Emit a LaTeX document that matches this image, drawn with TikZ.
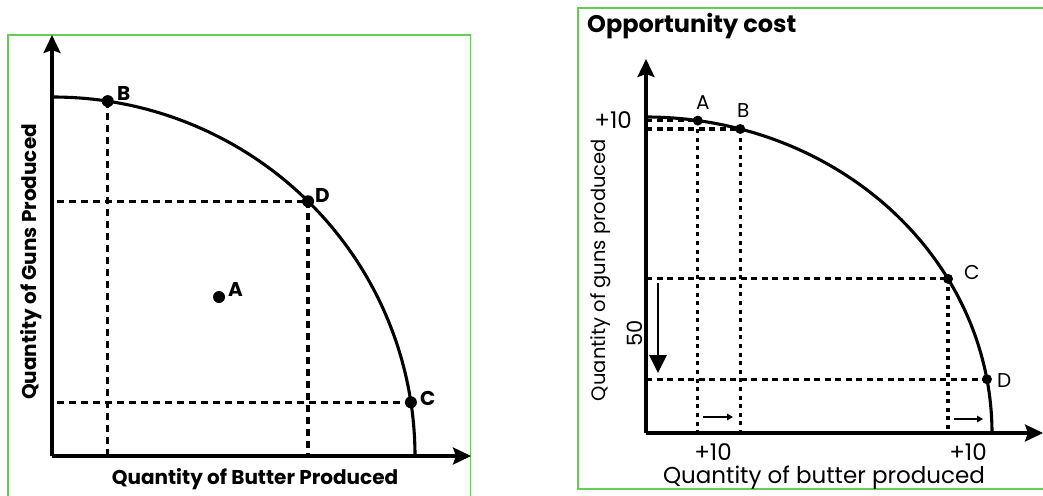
\documentclass[tikz,border=0pt]{standalone}
\usepackage{fontspec}
\setmainfont{Poppins}
\usetikzlibrary{arrows.meta}
\definecolor{framegreen}{RGB}{102,204,85}
\begin{document}
\begin{tikzpicture}[x=1pt,y=-1pt,
  axis/.style={line width=3.4pt,-{Stealth[length=18pt,width=17pt,inset=3pt]}},
  ppf/.style={line width=3.1pt},
  dashL/.style={line width=3.3pt,dash pattern=on 7pt off 5pt},
  dashLh/.style={line width=3.3pt,dash pattern=on 7pt off 5pt,dash phase=7pt},
  dashR/.style={line width=3.3pt,dash pattern=on 6pt off 4.5pt},
  dotR/.style={line width=3.4pt,dash pattern=on 4pt off 4.6pt},
  ptL/.style={circle,fill,inner sep=0pt,minimum size=12pt},
  ptR/.style={circle,fill,inner sep=0pt,minimum size=10pt},
  lblL/.style={font=\fontsize{20}{24}\selectfont\bfseries,inner sep=0pt},
  lblR/.style={font=\fontsize{20}{24}\selectfont,inner sep=0pt},
  axlabL/.style={font=\fontsize{20}{24}\selectfont\bfseries,inner sep=0pt},
  xlabR/.style={font=\fontsize{23}{26}\selectfont,inner sep=0pt},
  ylabR/.style={font=\fontsize{19.5}{24}\selectfont,inner sep=0pt},
  numR/.style={font=\fontsize{23}{26}\selectfont,inner sep=0pt},
  fiftyR/.style={font=\fontsize{21}{24}\selectfont,inner sep=0pt},
  titleR/.style={font=\fontsize{24}{28}\selectfont\bfseries,inner sep=0pt},
  frame/.style={draw=framegreen,line width=1.3pt},
  bigarr/.style={line width=2.8pt,-{Triangle[length=18pt,width=17pt]}},
  smallarr/.style={line width=2.2pt,-{Triangle[length=6pt,width=6.5pt]}}
]
\useasboundingbox (0,0) rectangle (1043,495);
\fill[white] (0,0) rectangle (1043,495);
% frames
\draw[frame] (8,35) rectangle (470.5,510);
\draw[frame] (578,8) rectangle (1055,489);

%%%%%%%% LEFT PANEL
\coordinate (O1) at (52,456);
\coordinate (Y1) at (52,35);
\coordinate (X1) at (471,456);
\coordinate (pB1) at ({53+362*cos(81.3)},{456-359*sin(81.3)});
\coordinate (pD1) at ({53+362*cos(45.2)},{456-359*sin(45.2)});
\coordinate (pC1) at ({53+362*cos(8.6)},{456-359*sin(8.6)});
\coordinate (pA1) at (219,297);
\draw[dashL] (pB1) -- (pB1 |- O1);
\draw[dashL] (pD1) -- (pD1 |- O1);
\draw[dashLh] (O1 |- pD1) -- (pD1);
\draw[dashLh] (O1 |- pC1) -- (pC1);
\draw[ppf] plot[domain=90:0,samples=90] ({53+362*cos(\x)},{456-359*sin(\x)});
\draw[axis] (O1) -- (Y1);
\draw[axis] (O1) -- (X1);
\node[ptL] (B1) at (pB1) {};
\node[ptL] (D1) at (pD1) {};
\node[ptL] (C1) at (pC1) {};
\node[ptL] (A1) at (pA1) {};
\node[lblL,anchor=base west] (lB1) at (117,100) {B};
\node[lblL,anchor=base west] (lD1) at (315,202) {D};
\node[lblL,anchor=base west] (lA1) at (228,296) {A};
\node[lblL,anchor=base west] (lC1) at (420,405) {C};
\node[axlabL,rotate=90,anchor=base] (ylab1) at (36,262) {Quantity of Guns Produced};
\node[axlabL,anchor=base] (xlab1) at (255,484) {Quantity of Butter Produced};

%%%%%%%% RIGHT PANEL
\coordinate (O2) at (646,433);
\coordinate (Y2) at (646,59);
\coordinate (X2) at (1043,433);
\coordinate (pA2) at ({646+346*cos(81.4)},{433-316*sin(81.4)});
\coordinate (pB2) at ({646+346*cos(74.2)},{433-316*sin(74.2)});
\coordinate (pC2) at ({646+346*cos(29.2)},{433-316*sin(29.2)});
\coordinate (pD2) at ({646+346*cos(9.8)},{433-316*sin(9.8)});
\draw[dotR] (pA2) -- (pA2 |- O2);
\draw[dotR] (pB2) -- (pB2 |- O2);
\draw[dotR] (pC2) -- (pC2 |- O2);
\draw[dashR] (O2 |- pA2) -- (pA2);
\draw[dashR] (O2 |- pB2) -- (pB2);
\draw[dashR] (O2 |- pC2) -- (pC2);
\draw[dashR] (O2 |- pD2) -- (pD2);
\draw[ppf] plot[domain=90:0,samples=90] ({646+346*cos(\x)},{433-316*sin(\x)});
\draw[axis] (O2) -- (Y2);
\draw[axis] (O2) -- (X2);
\node[ptR] (A2) at (pA2) {};
\node[ptR] (B2) at (pB2) {};
\node[ptR] (C2) at (pC2) {};
\node[ptR] (D2) at (pD2) {};
\node[lblR,anchor=base west] (lA2) at (696,109) {A};
\node[lblR,anchor=base west] (lB2) at (737,117) {B};
\node[lblR,anchor=base west] (lC2) at (964,279) {C};
\node[lblR,anchor=base west] (lD2) at (997,387) {D};
% arrows
\coordinate (g1) at (658,283);
\coordinate (g2) at (658,373);
\draw[bigarr] (g1) -- (g2);
\coordinate (s1) at (703,417);
\coordinate (s2) at (733,417);
\draw[smallarr] (s1) -- (s2);
\coordinate (s3) at (954,419);
\coordinate (s4) at (983,419);
\draw[smallarr] (s3) -- (s4);
% texts
\node[titleR,anchor=base west] (title) at (587,33) {Opportunity cost};
\node[numR,anchor=base east] (n10y) at (632,128) {+10};
\node[numR,anchor=base] (n10a) at (713,460) {+10};
\node[numR,anchor=base] (n10b) at (968,460) {+10};
\node[fiftyR,rotate=90,anchor=base] (n50) at (642,333) {50};
\node[ylabR,rotate=90,anchor=base] (ylab2) at (605,270) {Quantity of guns produced};
\node[xlabR,anchor=base] (xlab2) at (824,483) {Quantity of butter produced};
\end{tikzpicture}
\end{document}
